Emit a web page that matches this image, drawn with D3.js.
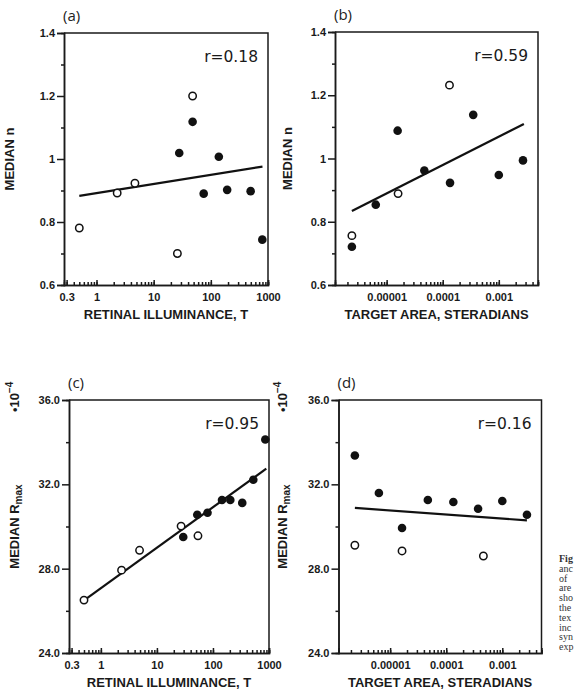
<!DOCTYPE html>
<html>
<head>
<meta charset="utf-8">
<script src="https://d3js.org/d3.v7.min.js"></script>
<style>
body { margin: 0; background: #fff; }
svg { display: block; }
.tick text { font-family: "Liberation Sans", Arial, sans-serif; font-weight: bold; font-size: 11px; fill: #1a1a1a; }
.axis path, .axis line { stroke: #1a1a1a; stroke-width: 1.5; }
.ttl { font-family: "Liberation Sans", Arial, sans-serif; font-weight: bold; font-size: 13px; fill: #1a1a1a; }
.rlab { font-family: "DejaVu Sans", sans-serif; font-size: 15.5px; fill: #1a1a1a; }
.plab { font-family: "Open Sans", sans-serif; font-size: 15px; fill: #222; }
.cap { font-family: "Liberation Serif", serif; font-size: 10px; fill: #333; }
</style>
</head>
<body>
<svg width="581" height="700"></svg>
<script>
// ---- data ----
// x values: retinal illuminance (T) or target area (steradians)
var illumTicks = [0.3, 1, 10, 100, 1000];
var illumTickLabels = ["0.3", "1", "10", "100", "1000"];
var areaTicks = [1e-5, 1e-4, 1e-3];
var areaTickLabels = ["0.00001", "0.0001", "0.001"];

var nTicks = [0.6, 0.8, 1.0, 1.2, 1.4];
var nTickLabels = ["0.6", "0.8", "1", "1.2", "1.4"];
var nMinor = [0.7, 0.9, 1.1, 1.3];
var rTicks = [24, 28, 32, 36];
var rTickLabels = ["24.0", "28.0", "32.0", "36.0"];
var rMinor = [26, 30, 34];

// (a) median n vs retinal illuminance
var aOpen = [[0.5, 0.781], [2.3, 0.892], [4.7, 0.923], [26, 0.70], [48, 1.2]];
var aFilled = [[28, 1.019], [48, 1.118], [75, 0.89], [138, 1.007], [193, 0.902], [497, 0.898], [795, 0.744]];
var aFit = [[0.5, 0.883], [800, 0.976]];

// (b) median n vs target area
var bOpen = [[2.4e-6, 0.756], [1.6e-5, 0.889], [1.32e-4, 1.232]];
var bFilled = [[2.4e-6, 0.721], [6.4e-6, 0.854], [1.57e-5, 1.088], [4.7e-5, 0.962], [1.35e-4, 0.923], [3.5e-4, 1.138], [1.0e-3, 0.948], [2.7e-3, 0.994]];
var bFit = [[2.4e-6, 0.834], [2.8e-3, 1.109]];

// (c) median Rmax (x10^-4) vs retinal illuminance
var cOpen = [[0.5, 26.51], [2.34, 27.93], [4.9, 28.87], [27, 30.02], [54, 29.56]];
var cFilled = [[29.5, 29.5], [52.5, 30.56], [80, 30.65], [145, 31.26], [204, 31.26], [333, 31.12], [525, 32.22], [859, 34.13]];
var cFit = [[0.5, 26.5], [895, 32.74]];

// (d) median Rmax (x10^-4) vs target area
var dOpen = [[2.35e-6, 29.11], [1.63e-5, 28.84], [4.6e-4, 28.6]];
var dFilled = [[2.35e-6, 33.37], [6.3e-6, 31.59], [1.63e-5, 29.93], [4.7e-5, 31.26], [1.34e-4, 31.16], [3.7e-4, 30.84], [1.0e-3, 31.21], [2.75e-3, 30.56]];
var dFit = [[2.35e-6, 30.88], [2.75e-3, 30.29]];

var captionLines = ["Fig", "anc", "of", "are", "sho", "the", "tex", "inc", "syn", "exp"];

const svg = d3.select("svg");

// minor log ticks (1..9 of each decade) inside a domain
function logMinor(dom) {
    var out = [];
    for (var e = Math.floor(Math.log10(dom[0])); e <= Math.ceil(Math.log10(dom[1])); e++) {
        for (var m = 1; m <= 9; m++) {
            var v = m * Math.pow(10, e);
            if (v >= dom[0] && v <= dom[1]) out.push(v);
        }
    }
    return out;
}

function drawPanel(p) {
    const x = d3.scaleLog().domain(p.xDomain).range([p.left, p.right]);
    const y = d3.scaleLinear().domain(p.yDomain).range([p.bottom, p.top]);
    const g = svg.append("g");

    // box (top + right)
    g.append("path")
        .attr("d", "M" + p.left + "," + p.top + "H" + p.right + "V" + p.bottom)
        .attr("fill", "none").attr("stroke", "#1a1a1a").attr("stroke-width", 1.5);

    // x axis: ticks point up into the plot
    g.append("g").attr("class", "axis")
        .attr("transform", "translate(0," + p.bottom + ")")
        .call(d3.axisBottom(x).tickValues(logMinor(p.xDomain)).tickSize(-3).tickFormat(""));
    g.append("g").attr("class", "axis")
        .attr("transform", "translate(0," + p.bottom + ")")
        .call(d3.axisBottom(x).tickValues(p.xTicks).tickSize(-5).tickPadding(8)
            .tickFormat(function(d, i) { return p.xLabels[i]; }));

    // y axis
    g.append("g").attr("class", "axis")
        .attr("transform", "translate(" + p.left + ",0)")
        .call(d3.axisLeft(y).tickValues(p.yMinor).tickSize(3).tickFormat(""));
    g.append("g").attr("class", "axis")
        .attr("transform", "translate(" + p.left + ",0)")
        .call(d3.axisLeft(y).tickValues(p.yTicks).tickSize(7).tickPadding(2)
            .tickFormat(function(d, i) { return p.yLabels[i]; }));

    // regression line
    g.append("path")
        .datum(p.fit)
        .attr("d", d3.line().x(d => x(d[0])).y(d => y(d[1])))
        .attr("fill", "none").attr("stroke", "#111").attr("stroke-width", 2.2);

    // points
    g.selectAll(null).data(p.filled).enter().append("circle")
        .attr("cx", d => x(d[0])).attr("cy", d => y(d[1])).attr("r", 4.3)
        .attr("fill", "#111");
    g.selectAll(null).data(p.open).enter().append("circle")
        .attr("cx", d => x(d[0])).attr("cy", d => y(d[1])).attr("r", 3.7)
        .attr("fill", "#fff").attr("stroke", "#111").attr("stroke-width", 1.5);

    // labels
    g.append("text").attr("class", "plab").attr("x", p.left - 1).attr("y", p.top - 12).text(p.tag);
    g.append("text").attr("class", "rlab").attr("x", p.right - 10).attr("y", p.top + 29)
        .attr("text-anchor", "end").text(p.r);
    g.append("text").attr("class", "ttl")
        .attr("x", (p.left + p.right) / 2).attr("y", p.bottom + 34)
        .attr("text-anchor", "middle").text(p.xTitle);

    var yt = g.append("text").attr("class", "ttl")
        .attr("transform", "translate(" + p.yTitleX + "," + ((p.top + p.bottom) / 2) + ") rotate(-90)")
        .attr("text-anchor", "middle");
    if (p.rmax) {
        yt.append("tspan").text("MEDIAN R");
        yt.append("tspan").attr("dy", 3).style("font-size", "10px").text("max");
        // *10^-4 scale note
        var sc = g.append("text").attr("class", "ttl")
            .attr("transform", "translate(" + p.yTitleX + "," + (p.top + 12) + ") rotate(-90)")
            .attr("text-anchor", "start");
        sc.append("tspan").text("\u202210");
        sc.append("tspan").attr("dy", -6).style("font-size", "10px").text("\u22124");
    } else {
        yt.text("MEDIAN n");
    }
}

var illumDomain = [0.27, 1000];
var areaDomain = [1.2e-6, 5e-3];

drawPanel({ tag: "(a)", r: "r=0.18", left: 64, right: 268, top: 33, bottom: 285,
    xDomain: illumDomain, xTicks: illumTicks, xLabels: illumTickLabels,
    yDomain: [0.6, 1.4], yTicks: nTicks, yLabels: nTickLabels, yMinor: nMinor,
    open: aOpen, filled: aFilled, fit: aFit,
    xTitle: "RETINAL ILLUMINANCE, T", yTitleX: 14 });

drawPanel({ tag: "(b)", r: "r=0.59", left: 335, right: 538, top: 32, bottom: 285,
    xDomain: areaDomain, xTicks: areaTicks, xLabels: areaTickLabels,
    yDomain: [0.6, 1.4], yTicks: nTicks, yLabels: nTickLabels, yMinor: nMinor,
    open: bOpen, filled: bFilled, fit: bFit,
    xTitle: "TARGET AREA, STERADIANS", yTitleX: 292 });

drawPanel({ tag: "(c)", r: "r=0.95", left: 69, right: 269, top: 400, bottom: 653,
    xDomain: illumDomain, xTicks: illumTicks, xLabels: illumTickLabels,
    yDomain: [24, 36], yTicks: rTicks, yLabels: rTickLabels, yMinor: rMinor,
    open: cOpen, filled: cFilled, fit: cFit, rmax: true,
    xTitle: "RETINAL ILLUMINANCE, T", yTitleX: 19 });

drawPanel({ tag: "(d)", r: "r=0.16", left: 338.5, right: 541.5, top: 400, bottom: 653,
    xDomain: areaDomain, xTicks: areaTicks, xLabels: areaTickLabels,
    yDomain: [24, 36], yTicks: rTicks, yLabels: rTickLabels, yMinor: rMinor,
    open: dOpen, filled: dFilled, fit: dFit, rmax: true,
    xTitle: "TARGET AREA, STERADIANS", yTitleX: 287 });

// clipped caption at the right edge
svg.append("g").selectAll("text").data(captionLines).enter().append("text")
    .attr("class", "cap")
    .attr("x", 559).attr("y", (d, i) => 562 + i * 9.8)
    .style("font-weight", (d, i) => i == 0 ? "bold" : "normal")
    .text(d => d);
</script>
</body>
</html>
